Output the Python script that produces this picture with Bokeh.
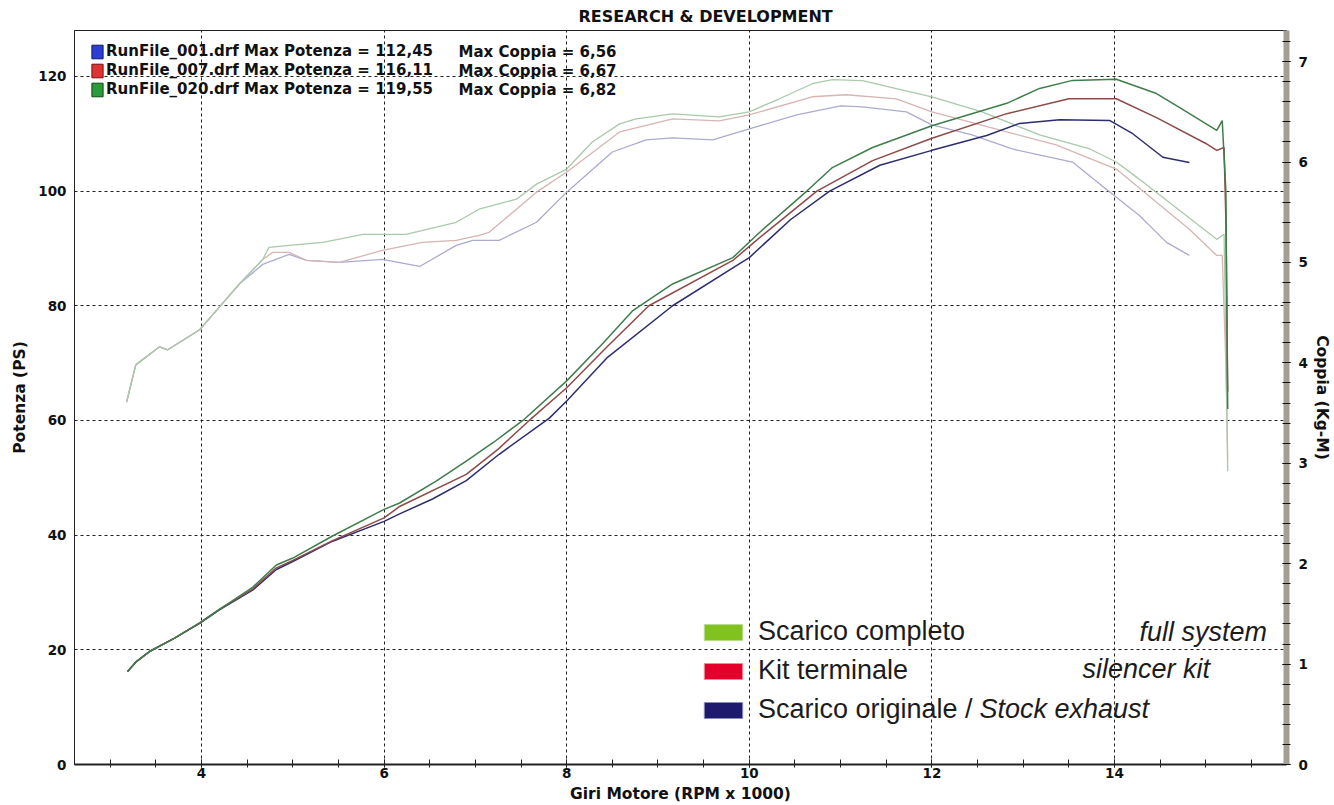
from bokeh.plotting import figure
from bokeh.models import Range1d, LinearAxis, FixedTicker, Legend, LegendItem, Label, Title
from bokeh.embed import file_html
from bokeh.resources import INLINE

# ---------------- data ----------------
# Power (PS) curves, left axis
rpm_pw_020 = [3.19, 3.29, 3.43, 3.7, 3.98, 4.2, 4.56, 4.82, 5.0, 5.43, 6.0, 6.17, 6.57, 6.9, 7.2, 7.52,
              8.0, 8.4, 8.72, 9.16, 9.82, 10.1, 10.63, 10.91, 11.35, 12.0, 12.82, 13.18, 13.54, 14.02,
              14.46, 14.71, 15.12, 15.18, 15.22, 15.24]
ps_020 = [16.2, 18.0, 19.7, 22.0, 24.7, 27.1, 30.9, 34.8, 36.0, 39.8, 44.5, 45.6, 49.4, 52.9, 56.2, 60.0,
          66.9, 73.5, 79.1, 83.8, 88.4, 92.6, 100.0, 104.1, 107.6, 111.4, 115.3, 117.9, 119.3, 119.5,
          117.0, 114.6, 110.6, 112.3, 100.0, 62.0]

rpm_pw_007 = [3.19, 3.29, 3.43, 3.7, 3.98, 4.2, 4.56, 4.82, 5.0, 5.43, 6.0, 6.17, 6.9, 7.25, 7.59, 8.0,
              8.44, 8.9, 9.82, 10.1, 10.74, 11.35, 12.0, 12.82, 13.5, 14.02, 14.46, 15.0, 15.12, 15.2,
              15.22, 15.24]
ps_007 = [16.2, 18.0, 19.7, 22.0, 24.7, 27.1, 30.6, 34.3, 35.6, 39.0, 43.0, 45.0, 50.6, 55.0, 60.0, 65.7,
          72.8, 80.0, 87.9, 91.7, 100.0, 105.3, 109.2, 113.5, 116.1, 116.1, 112.8, 108.3, 107.1, 107.6,
          95.0, 65.0]

rpm_pw_001 = [3.19, 3.29, 3.43, 3.7, 3.98, 4.2, 4.56, 4.82, 5.0, 5.43, 6.0, 6.17, 6.53, 6.9, 7.26, 7.81,
              8.0, 8.44, 9.16, 9.89, 10.0, 10.45, 10.88, 11.43, 12.0, 12.6, 12.96, 13.4, 13.95, 14.2,
              14.53, 14.82]
ps_001 = [16.2, 18.0, 19.7, 22.0, 24.6, 27.0, 30.4, 34.0, 35.4, 38.9, 42.4, 43.7, 46.3, 49.5, 54.1, 60.4,
          63.4, 70.9, 80.0, 87.3, 88.4, 95.0, 100.0, 104.5, 107.1, 109.7, 111.8, 112.45, 112.3, 110.0,
          105.9, 105.0]

# Torque (Kg-M) curves, right axis
rpm_tq_020 = [3.18, 3.28, 3.54, 3.63, 3.98, 4.2, 4.42, 4.67, 4.74, 4.96, 5.33, 5.77, 6.24, 6.79, 7.04,
              7.45, 7.67, 8.0, 8.28, 8.58, 8.76, 9.16, 9.67, 10.0, 10.33, 10.69, 10.91, 11.24, 11.61,
              12.0, 12.55, 13.18, 13.73, 14.02, 14.27, 14.64, 15.12, 15.2, 15.22, 15.24]
tq_020 = [3.61, 3.98, 4.16, 4.13, 4.33, 4.56, 4.79, 5.03, 5.15, 5.17, 5.2, 5.28, 5.28, 5.4, 5.53,
          5.63, 5.78, 5.93, 6.2, 6.38, 6.43, 6.48, 6.45, 6.5, 6.63, 6.78, 6.82, 6.81, 6.73,
          6.65, 6.5, 6.27, 6.13, 6.0, 5.83, 5.57, 5.23, 5.28, 4.2, 2.92]

rpm_tq_007 = [3.18, 3.28, 3.54, 3.63, 3.98, 4.2, 4.42, 4.67, 4.78, 4.96, 5.15, 5.51, 5.98, 6.42, 6.79,
              7.04, 7.15, 7.67, 8.0, 8.58, 9.16, 9.67, 10.0, 10.69, 11.06, 11.61, 12.0, 12.82, 13.36,
              14.02, 14.46, 14.82, 15.12, 15.18, 15.22, 15.24]
tq_007 = [3.61, 3.98, 4.16, 4.13, 4.33, 4.56, 4.79, 5.03, 5.1, 5.1, 5.02, 5.0, 5.12, 5.2, 5.22,
          5.27, 5.3, 5.7, 5.9, 6.3, 6.43, 6.41, 6.47, 6.65, 6.67, 6.63, 6.5, 6.3, 6.17,
          5.93, 5.6, 5.33, 5.07, 5.07, 4.0, 3.04]

rpm_tq_001 = [3.18, 3.28, 3.54, 3.63, 3.98, 4.2, 4.42, 4.67, 4.96, 5.15, 5.51, 5.98, 6.39, 6.79, 6.97,
              7.26, 7.67, 8.0, 8.5, 8.87, 9.16, 9.6, 10.0, 10.52, 11.0, 11.24, 11.72, 12.0, 12.44,
              12.88, 13.54, 13.91, 14.27, 14.57, 14.82]
tq_001 = [3.61, 3.98, 4.16, 4.13, 4.33, 4.56, 4.79, 4.98, 5.08, 5.02, 5.0, 5.03, 4.96, 5.17, 5.22,
          5.22, 5.4, 5.7, 6.1, 6.22, 6.24, 6.22, 6.33, 6.47, 6.56, 6.55, 6.5, 6.37, 6.27,
          6.13, 6.0, 5.73, 5.47, 5.2, 5.07]

run_labels = ["RunFile_001.drf Max Potenza = 112,45",
              "RunFile_007.drf Max Potenza = 116,11",
              "RunFile_020.drf Max Potenza = 119,55"]
coppia_labels = ["Max Coppia = 6,56", "Max Coppia = 6,67", "Max Coppia = 6,82"]
legend_it = ["Scarico completo", "Kit terminale", "Scarico originale /"]
legend_en = ["full system", "silencer kit", "Stock exhaust"]

x_major = [4, 6, 8, 10, 12, 14]
x_minor = [3 + 0.5 * i for i in range(26)]
ps_ticks = [0, 20, 40, 60, 80, 100, 120]
tq_ticks = [0, 1, 2, 3, 4, 5, 6, 7]
tq_minor = [round(0.2 * i, 1) for i in range(37)]

# ---------------- style ----------------
BOLD_FONT = "DejaVu Sans"
C_PW = {"020": "#3f7d4a", "007": "#8e4a48", "001": "#2d2d6e"}
C_TQ = {"020": "#a9c9ab", "007": "#d8b4b4", "001": "#ababd2"}
NAN = float("nan")

p = figure(frame_width=1212, frame_height=734,
           x_range=Range1d(2.609, 15.884), y_range=Range1d(0, 128.0),
           output_backend="svg", toolbar_location=None,
           min_border_left=67, min_border_right=0, min_border_top=22, min_border_bottom=0,
           background_fill_color="white", border_fill_color="white",
           outline_line_color="#222222", outline_line_width=1)
p.extra_y_ranges = {"torque": Range1d(0, 7.31)}

p.title.text = "RESEARCH & DEVELOPMENT"
p.title.align = "left"
p.title.offset = 504
p.title.standoff = 9
p.title.text_font = BOLD_FONT
p.title.text_font_size = "16px"
p.title.text_font_style = "bold"
p.title.text_color = "#111111"

# grids
p.xgrid.ticker = FixedTicker(ticks=x_major)
p.ygrid.ticker = FixedTicker(ticks=ps_ticks[1:])
for g in (p.xgrid, p.ygrid):
    g.grid_line_color = "#222222"
    g.grid_line_dash = "3 3"
    g.grid_line_width = 1

# left axis
ya = p.yaxis[0]
ya.ticker = FixedTicker(ticks=ps_ticks)
ya.axis_label = "Potenza (PS)"
ya.axis_line_color = "#222222"
ya.major_tick_out = 0
ya.major_tick_in = 0
ya.minor_tick_out = 0
ya.minor_tick_in = 0
ya.major_label_standoff = 8
ya.axis_label_standoff = 6
# blank outer padding on the left side
p.add_layout(Title(text=" ", text_font_size="1px", standoff=5), "left")

# bottom axis
xa = p.xaxis[0]
xa.ticker = FixedTicker(ticks=x_major, minor_ticks=x_minor)
xa.axis_label = "Giri Motore (RPM x 1000)"
xa.axis_line_color = "#222222"
xa.axis_line_width = 2
xa.major_tick_in = 5
xa.major_tick_out = 3
xa.minor_tick_in = 5
xa.minor_tick_out = 3
xa.major_tick_line_color = "#222222"
xa.minor_tick_line_color = "#222222"
xa.major_label_standoff = 0
xa.axis_label_standoff = 4

# right axis
ra = LinearAxis(y_range_name="torque",
                ticker=FixedTicker(ticks=tq_ticks, minor_ticks=tq_minor),
                axis_label="Coppia (Kg-M)")
ra.axis_line_color = "#a39f95"
ra.axis_line_width = 6
ra.major_tick_in = 4
ra.major_tick_out = 4
ra.minor_tick_in = 4
ra.minor_tick_out = 4
ra.major_tick_line_color = "#111111"
ra.minor_tick_line_color = "#111111"
ra.major_label_standoff = 8
ra.axis_label_standoff = 2
p.add_layout(ra, "right")

for ax in (xa, ya, ra):
    ax.major_label_text_font = BOLD_FONT
    ax.major_label_text_font_style = "bold"
    ax.major_label_text_font_size = "13.5px"
    ax.major_label_text_color = "#111111"
    ax.axis_label_text_font = BOLD_FONT
    ax.axis_label_text_font_style = "bold"
    ax.axis_label_text_font_size = "15.5px"
    ax.axis_label_text_color = "#111111"

# torque curves (faint)
p.line(rpm_tq_001, tq_001, y_range_name="torque", line_color=C_TQ["001"], line_width=1.3)
p.line(rpm_tq_007, tq_007, y_range_name="torque", line_color=C_TQ["007"], line_width=1.3)
p.line(rpm_tq_020, tq_020, y_range_name="torque", line_color=C_TQ["020"], line_width=1.3)

# power curves
p.line(rpm_pw_001, ps_001, line_color=C_PW["001"], line_width=1.5)
p.line(rpm_pw_007, ps_007, line_color=C_PW["007"], line_width=1.5)
p.line(rpm_pw_020, ps_020, line_color=C_PW["020"], line_width=1.5)

# top-left run file legend (swatch-only renderers, nothing drawn in the plot)
sq_colors = [("#2b3fd6", "#101860"), ("#e03434", "#701010"), ("#2a9a3a", "#0e4a16")]
sq_r = [p.quad(left=[NAN], right=[NAN], top=[NAN], bottom=[NAN], fill_color=f, line_color=l)
        for f, l in sq_colors]
leg_runs = Legend(items=[LegendItem(label=t, renderers=[r]) for t, r in zip(run_labels, sq_r)],
                  location=(16, 666), orientation="vertical",
                  glyph_width=14, glyph_height=17, label_height=17, spacing=1,
                  label_standoff=2, padding=0, margin=0,
                  border_line_color=None, background_fill_alpha=0,
                  label_text_font=BOLD_FONT, label_text_font_size="15px",
                  label_text_font_style="bold", label_text_color="#111111")
p.add_layout(leg_runs)

coppia_y = [124.18, 120.86, 117.56]
for t, yv in zip(coppia_labels, coppia_y):
    p.add_layout(Label(x=6.815, y=yv, text=t, text_font=BOLD_FONT, text_font_size="15px",
                       text_font_style="bold", text_color="#111111",
                       text_baseline="middle", text_align="left"))

# bottom-right exhaust legend
ex_colors = [("#82c21e", "#b9dc8c"), ("#e4002b", "#f08a9a"), ("#1e1a6e", "#8c8ab8")]
ex_r = [p.quad(left=[NAN], right=[NAN], top=[NAN], bottom=[NAN], fill_color=f, line_color=l)
        for f, l in ex_colors]
leg_ex = Legend(items=[LegendItem(label=t, renderers=[r]) for t, r in zip(legend_it, ex_r)],
                location=(625, 39), orientation="vertical",
                glyph_width=48, glyph_height=20, label_height=30, spacing=8,
                label_standoff=11, padding=0, margin=0,
                border_line_color=None, background_fill_alpha=0,
                label_text_font="Liberation Sans", label_text_font_size="27px",
                label_text_color="#1c1c1c")
p.add_layout(leg_ex)

en_pos = [(14.274, 23.1), (13.650, 16.7), (12.521, 9.7)]
for t, (xv, yv) in zip(legend_en, en_pos):
    p.add_layout(Label(x=xv, y=yv, text=t, text_font="Liberation Sans", text_font_size="27px",
                       text_font_style="italic", text_color="#1c1c1c",
                       text_baseline="middle", text_align="left"))

open("out.html", "w").write(file_html(p, INLINE))
